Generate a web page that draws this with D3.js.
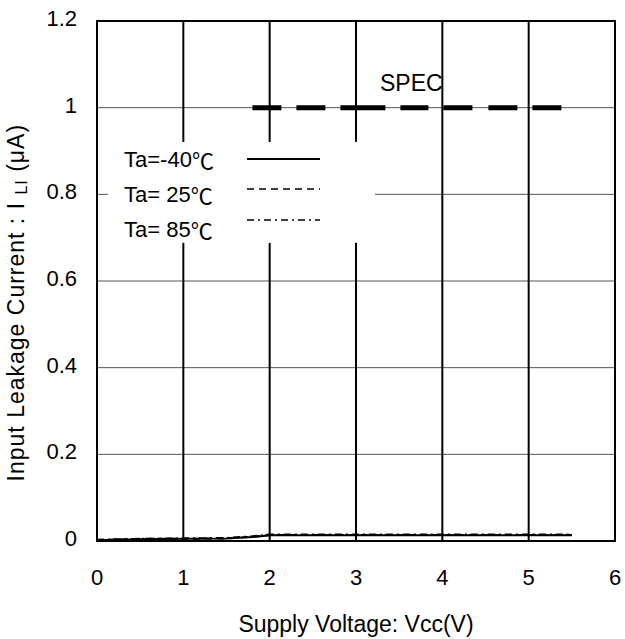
<!DOCTYPE html>
<html>
<head>
<meta charset="utf-8">
<script src="https://cdn.jsdelivr.net/npm/d3@7"></script>
<style>
  body { margin: 0; background: #fff; }
  text { font-family: "Liberation Sans", Arial, sans-serif; }
</style>
</head>
<body>
<div id="chart"></div>
<script>
// data
const vcc = [0, 0.5, 1, 1.5, 1.8, 2, 2.5, 3, 3.5, 4, 4.5, 5, 5.5];
const ta40 = [0.002, 0.004, 0.005, 0.006, 0.009, 0.013, 0.013, 0.013, 0.013, 0.013, 0.013, 0.013, 0.013];
const ta25 = [0.002, 0.005, 0.005, 0.006, 0.010, 0.014, 0.014, 0.014, 0.014, 0.014, 0.014, 0.014, 0.014];
const ta85 = [0.003, 0.005, 0.006, 0.007, 0.011, 0.015, 0.015, 0.015, 0.015, 0.015, 0.015, 0.015, 0.015];
const specRange = [1.8, 5.4];
const specValue = 1;
const xTicks = [0, 1, 2, 3, 4, 5, 6];
const yTicks = [0, 0.2, 0.4, 0.6, 0.8, 1, 1.2];
const legendTemps = ['Ta=-40', 'Ta= 25', 'Ta= 85'];

const size = { width: 625, height: 639 };
const margin = { left: 97, right: 10, top: 21, bottom: 98 };

const svg = d3.select('#chart').append('svg')
    .attr('width', size.width)
    .attr('height', size.height);

const x = d3.scaleLinear().domain([0, 6]).range([margin.left, size.width - margin.right]);
const y = d3.scaleLinear().domain([0, 1.2]).range([size.height - margin.bottom, margin.top]);

// horizontal grid (thin grey)
svg.append('g').selectAll('line')
    .data(yTicks.filter(d => d > 0 && d < 1.2))
    .join('line')
    .attr('x1', x(0)).attr('x2', x(6))
    .attr('y1', d => y(d)).attr('y2', d => y(d))
    .attr('stroke', '#555').attr('stroke-width', 1);

// vertical grid (thick black)
svg.append('g').selectAll('line')
    .data(xTicks.filter(d => d > 0 && d < 6))
    .join('line')
    .attr('x1', d => x(d)).attr('x2', d => x(d))
    .attr('y1', y(1.2)).attr('y2', y(0))
    .attr('stroke', '#000').attr('stroke-width', 2);

// white legend box over the grid
svg.append('rect')
    .attr('x', x(0.127)).attr('y', y(0.921))
    .attr('width', x(3.22) - x(0.127)).attr('height', y(0.688) - y(0.921))
    .attr('fill', '#fff');

// frame
svg.append('rect')
    .attr('x', x(0)).attr('y', y(1.2))
    .attr('width', x(6) - x(0)).attr('height', y(0) - y(1.2))
    .attr('fill', 'none').attr('stroke', '#000').attr('stroke-width', 2);

// spec line
svg.append('line')
    .attr('x1', x(specRange[0])).attr('x2', x(specRange[1]))
    .attr('y1', y(specValue)).attr('y2', y(specValue))
    .attr('stroke', '#000').attr('stroke-width', 5)
    .attr('stroke-dasharray', '29 15 29 15 45 15 28 15 29 16 29 15 29 20');

svg.append('text')
    .attr('x', 380).attr('y', 91)
    .attr('font-size', 23)
    .text('SPEC');

// series
const series = [
    { values: ta40, dash: null },
    { values: ta25, dash: '7 5' },
    { values: ta85, dash: '7 4 2 4' }
];

const line = d3.line()
    .x((d, i) => x(vcc[i]))
    .y(d => y(d));

series.forEach(s => {
    svg.append('path')
        .attr('d', line(s.values))
        .attr('fill', 'none')
        .attr('stroke', '#000')
        .attr('stroke-width', 2)
        .attr('stroke-dasharray', s.dash);
});

// legend
const legendBase = [167, 202, 237];
const legendLineY = [159, 189, 220];
legendTemps.forEach((t, i) => {
    const lt = svg.append('text')
        .attr('x', 124).attr('y', legendBase[i])
        .attr('font-size', 22);
    lt.append('tspan').text(t);
    lt.append('tspan')
        .attr('font-family', '"Noto Sans CJK JP", sans-serif')
        .attr('dy', 2)
        .text('\u2103');
    svg.append('line')
        .attr('x1', 247).attr('x2', 320)
        .attr('y1', legendLineY[i]).attr('y2', legendLineY[i])
        .attr('stroke', '#000')
        .attr('stroke-width', i === 0 ? 2 : 1.5)
        .attr('stroke-dasharray', series[i].dash);
});

// tick labels
svg.append('g').selectAll('text')
    .data(xTicks)
    .join('text')
    .attr('x', d => x(d)).attr('y', y(0) + 44)
    .attr('text-anchor', 'middle')
    .attr('font-size', 22)
    .text(d => d);

svg.append('g').selectAll('text')
    .data(yTicks)
    .join('text')
    .attr('x', x(0) - 20).attr('y', d => y(d) + 5)
    .attr('text-anchor', 'end')
    .attr('font-size', 22)
    .text(d => d);

// axis titles
svg.append('text')
    .attr('x', (x(0) + x(6)) / 2).attr('y', 632)
    .attr('text-anchor', 'middle')
    .attr('font-size', 23)
    .text('Supply Voltage: Vcc(V)');

const yTitle = svg.append('text')
    .attr('transform', `translate(24, ${y(0.55)}) rotate(-90)`)
    .attr('text-anchor', 'middle')
    .attr('font-size', 23)
    .attr('letter-spacing', 1);
yTitle.append('tspan').text('Input Leakage Current : I ');
yTitle.append('tspan').attr('font-size', 16).attr('dy', 3).text('LI');
yTitle.append('tspan').attr('dy', -3).text(' (\u03bcA)');
</script>
</body>
</html>
